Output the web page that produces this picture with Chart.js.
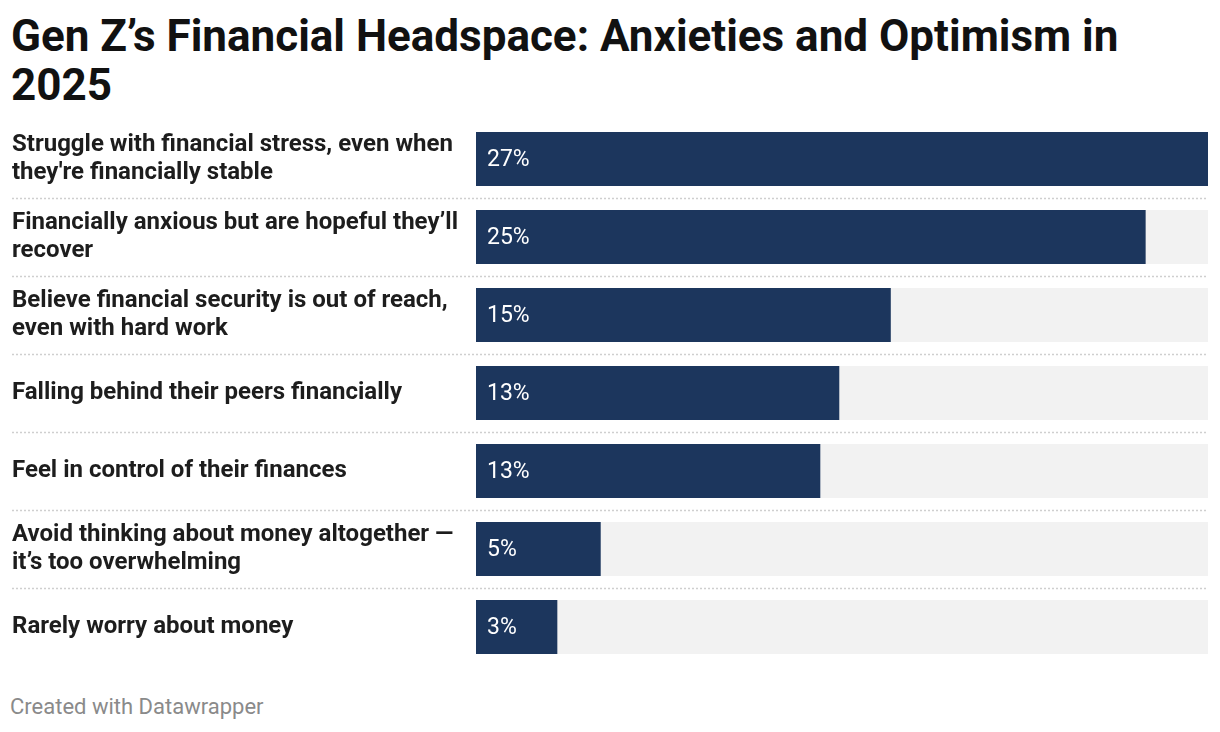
<!DOCTYPE html>
<html>
<head>
<meta charset="utf-8">
<script src="https://cdn.jsdelivr.net/npm/chart.js@4/dist/chart.umd.min.js"></script>
<style>
    html, body { margin: 0; padding: 0; background: #fff; }
    body { width: 1220px; height: 732px; position: relative; overflow: hidden; font-family: Roboto, sans-serif; }
    #titulo {
        position: absolute; left: 11px; top: 12px; width: 1195px;
        margin: 0; font-size: 44px; font-weight: 700; line-height: 49px; color: #111;
    }
    #grafico { position: absolute; left: 0; top: 120px; width: 1220px; height: 546px; }
    #rodape { position: absolute; left: 10px; top: 694px; font-size: 22px; color: #8a8a8a; }
</style>
</head>
<body>
<h1 id="titulo">Gen Z’s Financial Headspace: Anxieties and Optimism in 2025</h1>
<div id="grafico"><canvas id="canvas_genz"></canvas></div>
<div id="rodape">Created with Datawrapper</div>

<script>
const categorias = [
    ['Struggle with financial stress, even when', "they're financially stable"],
    ['Financially anxious but are hopeful they’ll', 'recover'],
    ['Believe financial security is out of reach,', 'even with hard work'],
    'Falling behind their peers financially',
    'Feel in control of their finances',
    ['Avoid thinking about money altogether —', 'it’s too overwhelming'],
    'Rarely worry about money'
];
const valores = [27, 24.7, 15.3, 13.4, 12.7, 4.6, 3.0];
const rotulosValores = ['27%', '25%', '15%', '13%', '13%', '5%', '3%'];
const valorMaximo = 27;

const chartGenZ = document.getElementById('canvas_genz');

// linhas pontilhadas entre as categorias + rótulos dentro das barras
const pluginDetalhes = {
    id: 'detalhes',
    beforeDatasetsDraw(chart) {
        const ctx = chart.ctx;
        const escalaY = chart.scales.y;
        ctx.save();
        ctx.strokeStyle = '#cfcfcf';
        ctx.lineWidth = 1.5;
        ctx.setLineDash([2, 2]);
        for (let i = 0; i < categorias.length - 1; i++) {
            let y = Math.round((escalaY.getPixelForValue(i) + escalaY.getPixelForValue(i + 1)) / 2) + 0.5;
            ctx.beginPath();
            ctx.moveTo(12, y);
            ctx.lineTo(chart.chartArea.right, y);
            ctx.stroke();
        }
        ctx.restore();
    },
    afterDatasetsDraw(chart) {
        const ctx = chart.ctx;
        const meta = chart.getDatasetMeta(1);
        ctx.save();
        ctx.fillStyle = '#ffffff';
        ctx.font = '400 23px Roboto';
        ctx.textBaseline = 'middle';
        ctx.textAlign = 'left';
        meta.data.forEach((barra, i) => {
            ctx.fillText(rotulosValores[i], barra.base + 11, barra.y + 1);
        });
        ctx.restore();
    }
};

new Chart(chartGenZ, {
    type: 'bar',
    data: {
        labels: categorias,
        datasets: [
            {
                label: 'fundo',
                data: categorias.map(() => valorMaximo),
                backgroundColor: '#f2f2f2',
                grouped: false,
                order: 2,
            },
            {
                label: 'Percentual',
                data: valores,
                backgroundColor: '#1c365d',
                grouped: false,
                order: 1,
            }
        ]
    },
    options: {
        indexAxis: 'y',
        responsive: true,
        maintainAspectRatio: false,
        animation: false,
        devicePixelRatio: 1,
        layout: {
            padding: { left: 12, right: 12, top: 0, bottom: 0 },
        },
        datasets: {
            bar: {
                barPercentage: 1,
                categoryPercentage: 0.692,
            }
        },
        scales: {
            x: {
                display: false,
                min: 0,
                max: valorMaximo,
            },
            y: {
                grid: { display: false },
                border: { display: false },
                afterFit(escala) {
                    escala.width = 464;
                    escala.paddingTop = 0;
                    escala.paddingBottom = 0;
                },
                ticks: {
                    crossAlign: 'far',
                    color: '#1d1d1d',
                    font: { family: 'Roboto', size: 24, weight: '700', lineHeight: 1.1667 },
                    padding: 0,
                }
            }
        },
        plugins: {
            legend: { display: false },
            tooltip: { enabled: false },
        }
    },
    plugins: [pluginDetalhes]
});
</script>
</body>
</html>
